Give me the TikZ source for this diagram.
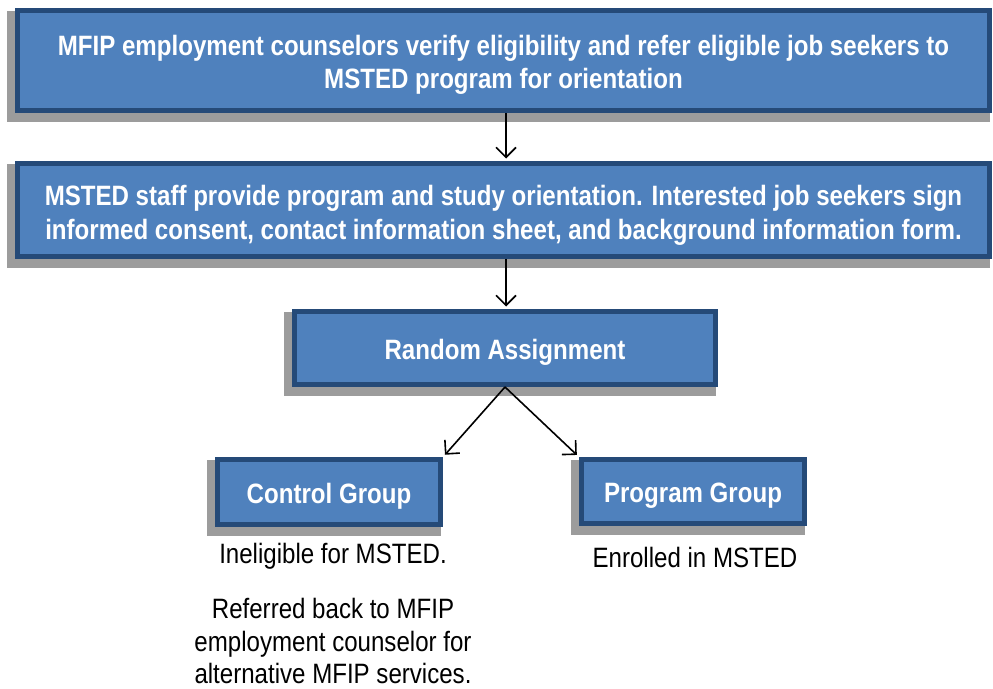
\documentclass[tikz,border=0pt]{standalone}
\usepackage{fontspec}
\setmainfont[FakeStretch=0.86]{Liberation Sans}
\usetikzlibrary{arrows.meta,backgrounds}
\definecolor{boxfill}{HTML}{4F81BD}
\definecolor{boxline}{HTML}{254A78}
\definecolor{shadowc}{HTML}{9C9C9C}
\newcommand{\lowerstrut}[1]{\rule{0pt}{#1}}
\begin{document}
\begin{tikzpicture}[x=1pt,y=-1pt,
  box/.style={draw=boxline, line width=5pt, fill=boxfill, text=white,
    font=\fontsize{28}{33.5}\selectfont\bfseries, align=center, inner sep=0pt},
  note/.style={font=\fontsize{28}{32.5}\selectfont, align=center, inner sep=0pt},
  arr/.style={draw=black, line width=1.6pt, -{Straight Barb[length=10pt,width=20pt]}}]
\useasboundingbox (0,0) rectangle (993,688);
\node[box, minimum width=972pt, minimum height=100pt] (b1) at (503.5,60.5)
  {\lowerstrut{29pt}MFIP employment counselors verify eligibility and refer eligible job seekers to\\MSTED program for orientation};
\node[box, minimum width=972pt, minimum height=93pt] (b2) at (503.5,210)
  {\lowerstrut{31pt}MSTED staff provide program and study orientation. Interested job seekers sign\\informed consent, contact information sheet, and background information form.};
\node[box, minimum width=421pt, minimum height=73pt] (b3) at (505,348) {\lowerstrut{28.5pt}Random Assignment};
\node[box, minimum width=223pt, minimum height=65pt] (ctrl) at (329,492) {\lowerstrut{28.5pt}Control Group};
\node[box, minimum width=223pt, minimum height=64pt] (prog) at (693,491.5) {\lowerstrut{28.5pt}Program Group};
\begin{scope}[on background layer]
  \foreach \n in {b1,b2,b3,ctrl,prog}
    \fill[shadowc] ([xshift=-8.5pt,yshift=-2.5pt]\n.north west) rectangle ([xshift=-2pt,yshift=-9pt]\n.south east);
\end{scope}
\node[note] (n1) at (333,556.5) {Ineligible for MSTED.};
\node[note] (n2) at (333,641) {Referred back to MFIP\\employment counselor for\\alternative MFIP services.};
\node[note] (n3) at (695,557) {Enrolled in MSTED};
\draw[arr, shorten >=2.5pt] ([xshift=2.5pt]b1.south) -- ([xshift=2.5pt]b2.north);
\draw[arr, shorten >=2.5pt] ([xshift=2.5pt]b2.south) -- ([xshift=1pt]b3.north);
\draw[arr, shorten >=3pt] (b3.south) -- (ctrl.north east);
\draw[arr, shorten >=3pt] (b3.south) -- (prog.north west);
\end{tikzpicture}
\end{document}
